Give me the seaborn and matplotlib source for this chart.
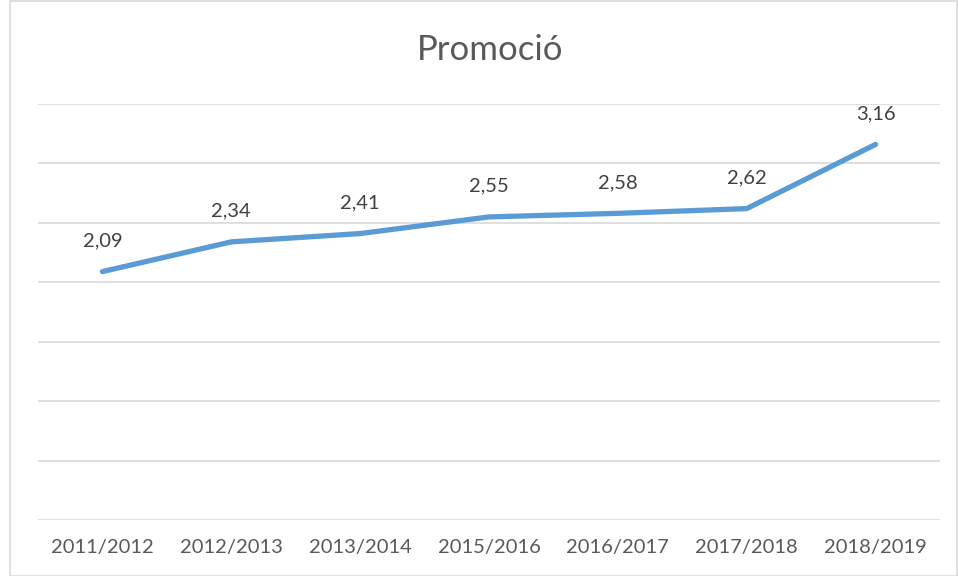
import matplotlib
matplotlib.use("Agg")
import matplotlib.pyplot as plt
import matplotlib.patches as mpatches
import seaborn as sns
import pandas as pd
import numpy as np

# Data
cursos = ['2011/2012', '2012/2013', '2013/2014', '2015/2016', '2016/2017', '2017/2018', '2018/2019']
valors = [2.09, 2.34, 2.41, 2.55, 2.58, 2.62, 3.16]
etiquetes = ['2,09', '2,34', '2,41', '2,55', '2,58', '2,62', '3,16']

df = pd.DataFrame({'curs': cursos, 'valor': valors, 'pos': np.arange(len(cursos))})

sns.set_theme(style="white")
plt.rcParams['font.family'] = ['Lato', 'DejaVu Sans']

text_color = '#595959'
grid_color = '#D9D9D9'
line_color = '#5B9BD5'

fig = plt.figure(figsize=(9.58, 5.76), dpi=100)
ax = fig.add_axes([38 / 958, 56 / 576, 902 / 958, 416 / 576])

sns.lineplot(data=df, x='pos', y='valor', ax=ax, color=line_color,
             linewidth=3.8, solid_capstyle='round')

for x, y, lab in zip(df['pos'], df['valor'], etiquetes):
    ax.annotate(lab, (x, y), xytext=(0, 22), textcoords='offset points',
                ha='center', va='center', fontsize=14.5, color='#404040')

ax.set_xlim(-0.5, len(cursos) - 0.5)
ax.set_ylim(0, 3.5)
ax.set_yticks(np.arange(0, 3.51, 0.5))
ax.set_yticklabels([])
ax.tick_params(axis='y', length=0)
ax.set_xticks(df['pos'])
ax.set_xticklabels(cursos, fontsize=14.5, color=text_color)
ax.tick_params(axis='x', length=0, pad=14)
ax.grid(axis='y', color=grid_color, linewidth=1.2)
ax.set_axisbelow(True)
for s in ax.spines.values():
    s.set_visible(False)
ax.set_xlabel('')
ax.set_ylabel('')

fig.text(490 / 958, 1 - 50 / 576, 'Promoció', ha='center', va='center',
         fontsize=25, color=text_color)

# light border around the chart area
fig.patches.append(mpatches.Rectangle((10 / 958, 0), 1 - 10 / 958 - 0.001, 0.999,
                                      transform=fig.transFigure, fill=False,
                                      edgecolor=grid_color, linewidth=1.2))

plt.savefig('out.png', dpi=100)
plt.close()
